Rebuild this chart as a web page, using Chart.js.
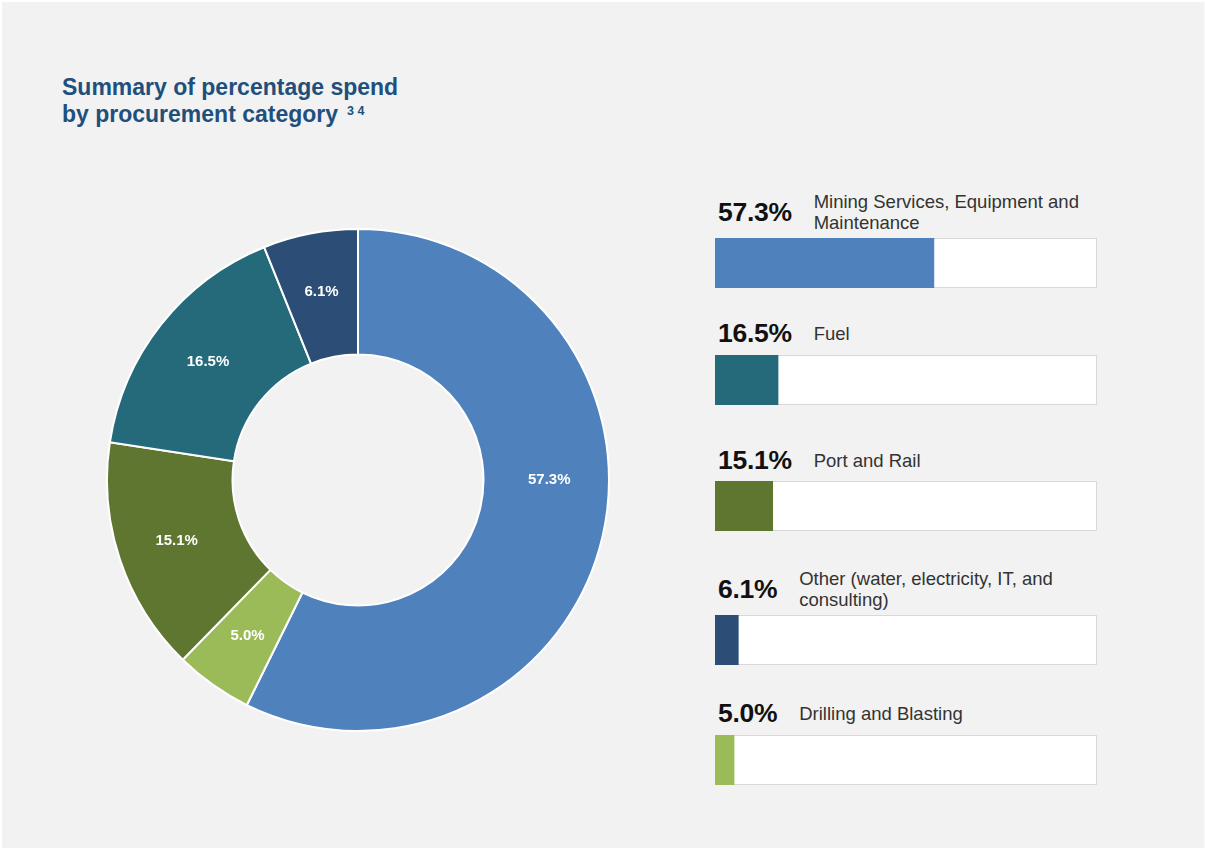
<!DOCTYPE html>
<html>
<head>
<meta charset="utf-8">
<script src="https://cdn.jsdelivr.net/npm/chart.js@4.4.1/dist/chart.umd.min.js"></script>
<style>
  html, body { margin:0; padding:0; }
  body { width:1205px; height:848px; background:#f2f2f2; position:relative; overflow:hidden;
         font-family:"Liberation Sans", Arial, sans-serif; }
  #frame { position:absolute; left:0; top:0; width:1205px; height:848px; box-sizing:border-box;
           border-top:2px solid #fff; border-left:2px solid #fff; border-right:1px solid #fafafa; pointer-events:none; }
  #title { position:absolute; left:62px; top:74px; color:#214f7c; font-weight:bold; font-size:23px; line-height:27px; }
  #title sup { font-size:12.5px; vertical-align:top; position:relative; top:-3px; margin-left:9px; }
  #donutWrap { position:absolute; left:106px; top:228px; width:504px; height:504px; }
  .row { position:absolute; left:718px; display:flex; align-items:center; transform:translateY(-50%); }
  .pct { font-weight:bold; font-size:26.5px; color:#111; letter-spacing:-0.3px; }
  .cat { font-size:18.5px; line-height:21px; color:#333; margin-left:22px; }
  .track { position:absolute; left:715px; width:382px; height:50px; background:#fff;
           box-shadow: inset 0 0 0 1px #d9d9d9; }
  .track canvas { position:absolute; left:0; top:0; }
</style>
</head>
<body>
<div id="frame"></div>
<div id="title">Summary of percentage spend<br>by procurement category<sup>3 4</sup></div>
<div id="donutWrap"><canvas id="donut" width="504" height="504"></canvas></div>
<div id="legend"></div>
<script>
// Categories in legend order (right-hand panel)
const categories = [
  "Mining Services, Equipment and<br>Maintenance",
  "Fuel",
  "Port and Rail",
  "Other (water, electricity, IT, and<br>consulting)",
  "Drilling and Blasting"
];
const values = [57.3, 16.5, 15.1, 6.1, 5.0];
const colors = ["#4f81bd", "#246a7b", "#5f7630", "#2c4d75", "#9bbb59"];
// Clockwise order of slices in the doughnut (indices into the arrays above)
const donutOrder = [0, 4, 2, 1, 3];
// Layout positions of the legend rows (vertical centre of label row, bar top)
const rowCenters = [212, 333, 460, 589, 713];
const barTops = [238, 355, 481, 615, 735];

const sliceLabels = {
  id: 'sliceLabels',
  afterDatasetsDraw(chart, args, opts) {
    const ctx = chart.ctx;
    const meta = chart.getDatasetMeta(0);
    ctx.save();
    ctx.fillStyle = '#ffffff';
    ctx.font = 'bold 15px "Liberation Sans", Arial, sans-serif';
    ctx.textAlign = 'center';
    ctx.textBaseline = 'middle';
    meta.data.forEach((arc, i) => {
      const p = arc.getProps(['x','y','startAngle','endAngle','innerRadius','outerRadius'], true);
      let mid = (p.startAngle + p.endAngle) / 2;
      // very large slices get their label placed on the horizontal (best-fit style)
      if (p.endAngle - p.startAngle > Math.PI) mid = 0;
      const r = (p.innerRadius + p.outerRadius) / 2 + 3;
      const v = chart.data.datasets[0].data[i];
      ctx.fillText(v.toFixed(1) + '%', p.x + Math.cos(mid) * r, p.y + Math.sin(mid) * r);
    });
    ctx.restore();
  }
};

new Chart(document.getElementById('donut'), {
  type: 'doughnut',
  data: {
    labels: donutOrder.map(i => categories[i].replace('<br>', ' ')),
    datasets: [{
      data: donutOrder.map(i => values[i]),
      backgroundColor: donutOrder.map(i => colors[i]),
      borderColor: '#ffffff',
      borderWidth: 2
    }]
  },
  options: {
    responsive: false,
    animation: false,
    cutout: '50%',
    layout: { padding: 0 },
    plugins: { legend: { display: false }, tooltip: { enabled: false } }
  },
  plugins: [sliceLabels]
});

const legend = document.getElementById('legend');
values.forEach((v, i) => {
  const row = document.createElement('div');
  row.className = 'row';
  row.style.top = rowCenters[i] + 'px';
  row.innerHTML = '<span class="pct">' + v.toFixed(1) + '%</span><span class="cat">' + categories[i] + '</span>';
  legend.appendChild(row);

  const track = document.createElement('div');
  track.className = 'track';
  track.style.top = barTops[i] + 'px';
  const cv = document.createElement('canvas');
  cv.width = 382; cv.height = 50;
  track.appendChild(cv);
  legend.appendChild(track);

  new Chart(cv, {
    type: 'bar',
    data: { labels: [categories[i]], datasets: [{ data: [v], backgroundColor: colors[i], borderWidth: 0,
      barPercentage: 1, categoryPercentage: 1 }] },
    options: {
      indexAxis: 'y', responsive: false, animation: false,
      layout: { padding: 0 },
      scales: {
        x: { min: 0, max: 100, display: false },
        y: { display: false }
      },
      plugins: { legend: { display: false }, tooltip: { enabled: false } }
    }
  });
});
</script>
</body>
</html>
